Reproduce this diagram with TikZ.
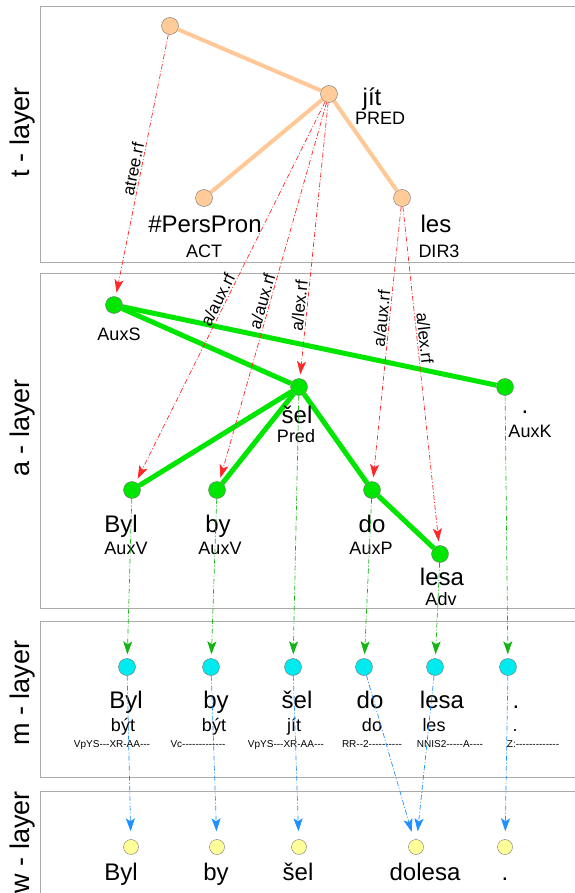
\documentclass[tikz,border=0pt]{standalone}
\usepackage{fontspec}
\setmainfont{Liberation Sans}
\newfontfamily\tagfont{Liberation Sans}
\usetikzlibrary{arrows.meta}

\definecolor{tnode}{RGB}{255,204,153}
\definecolor{tedge}{RGB}{255,200,150}
\definecolor{anode}{RGB}{0,230,0}
\definecolor{aedge}{RGB}{0,230,0}
\definecolor{mnode}{RGB}{0,235,240}
\definecolor{wnode}{RGB}{255,255,153}
\definecolor{tarrow}{RGB}{255,40,40}
\definecolor{aarrow}{RGB}{20,180,20}
\definecolor{marrow}{RGB}{30,144,255}
\definecolor{frame}{RGB}{170,170,170}

\begin{document}
\begin{tikzpicture}[x=1pt,y=-1pt,
  layerbox/.style={draw=frame,line width=1pt},
  layername/.style={rotate=90,font=\fontsize{27}{29}\selectfont},
  tdot/.style={circle,draw=black!55,fill=tnode,minimum size=17pt,inner sep=0pt},
  adot/.style={circle,draw=black!55,fill=anode,minimum size=17pt,inner sep=0pt},
  mdot/.style={circle,draw=black!55,fill=mnode,minimum size=17pt,inner sep=0pt},
  wdot/.style={circle,draw=black!55,fill=wnode,minimum size=15pt,inner sep=0pt},
  word/.style={anchor=base,inner sep=0pt,font=\fontsize{24}{26}\selectfont},
  func/.style={anchor=base,inner sep=0pt,font=\fontsize{18}{20}\selectfont},
  tag/.style={anchor=base,inner sep=0pt,font=\tagfont\fontsize{10}{11}\selectfont},
  tline/.style={draw=tedge,line width=4pt},
  aline/.style={draw=aedge,line width=5pt},
  refline/.style={line width=0.7pt,dash pattern=on 5pt off 2pt on 1pt off 2pt,-{Stealth[length=13pt,width=9pt,inset=3pt]}},
  tref/.style={refline,draw=tarrow,shorten >=4pt},
  aref/.style={refline,draw=aarrow,shorten >=4pt},
  mref/.style={refline,draw=marrow,shorten >=8pt},
  reflabel/.style={sloped,above,inner sep=1.5pt,font=\fontsize{17}{19}\selectfont,text=black}]
\useasboundingbox (0,0) rectangle (574,893);

% layers
\draw[layerbox] (40,7) rectangle (600,262);
\draw[layerbox] (40,273) rectangle (600,608);
\draw[layerbox] (40,621) rectangle (600,777);
\draw[layerbox] (40,791) rectangle (600,920);

\node[layername] (tlayer) at (23,132) {t - layer};
\node[layername] (alayer) at (23,428) {a - layer};
\node[layername] (mlayer) at (23,693) {m - layer};
\node[layername] (wlayer) at (23,842) {w - layer};

% t-layer
\node[tdot] (troot) at (170,26) {};
\node[tdot] (jit) at (329,94) {};
\node[tdot] (PersPron) at (204,198) {};
\node[tdot] (les) at (402,198) {};

\draw[tline] (troot) -- (jit);
\draw[tline] (jit) -- (PersPron);
\draw[tline] (jit) -- (les);

\node[word] (jitw) at (372,106) {jít};
\node[func] (jitf) at (380,125) {PRED};
\node[word] (PersPronw) at (205,233) {\#PersPron};
\node[func] (PersPronf) at (204,258) {ACT};
\node[word] (lesw) at (436,233) {les};
\node[func] (lesf) at (439,258) {DIR3};

% a-layer
\node[adot] (AuxS) at (114,305) {};
\node[adot] (sel) at (299,387) {};
\node[adot] (AuxK) at (505,387) {};
\node[adot] (Byl) at (132,490) {};
\node[adot] (by) at (217,490) {};
\node[adot] (do) at (372,490) {};
\node[adot] (lesa) at (440,554) {};

\draw[aline] (AuxS) -- (sel);
\draw[aline] (AuxS) -- (AuxK);
\draw[aline] (sel) -- (Byl);
\draw[aline] (sel) -- (by);
\draw[aline] (sel) -- (do);
\draw[aline] (do) -- (lesa);

\node[func] (AuxSf) at (119,340) {AuxS};
\node[word] (selw) at (297,423) {šel};
\node[func] (self) at (296,442) {Pred};
\node[word] (AuxKw) at (525,413) {.};
\node[func] (AuxKf) at (530,437) {AuxK};
\node[word] (Bylw) at (121,532) {Byl};
\node[func] (Bylf) at (126,554) {AuxV};
\node[word] (byw) at (218,532) {by};
\node[func] (byf) at (220,554) {AuxV};
\node[word] (dow) at (372,532) {do};
\node[func] (dof) at (371,554) {AuxP};
\node[word] (lesaw) at (442,585) {lesa};
\node[func] (lesaf) at (441,605) {Adv};

% t -> a
\draw[tref] (troot) -- node[reflabel,pos=.52] {atree.rf} (AuxS);
\draw[tref] (jit) -- node[reflabel,pos=.53] {a/aux.rf} (Byl);
\draw[tref] (jit) -- node[reflabel,pos=.53] {a/aux.rf} (by);
\draw[tref] (jit) -- node[reflabel,pos=.74] {a/lex.rf} (sel);
\draw[tref] (les) -- node[reflabel,pos=.41] {a/aux.rf} (do);
\draw[tref] (les) -- node[reflabel,pos=.39] {a/lex.rf} (lesa);

% m-layer
\node[mdot] (mByl) at (127,667) {};
\node[mdot] (mby) at (211,667) {};
\node[mdot] (msel) at (293,667) {};
\node[mdot] (mdo) at (364,667) {};
\node[mdot] (mlesa) at (435,667) {};
\node[mdot] (mperiod) at (508,667) {};

\node[word] (mBylw) at (126,708) {Byl};
\node[func] (mBylf) at (123,731) {být};
\node[tag] (mBylt) at (112,747) {VpYS---XR-AA---};
\node[word] (mbyw) at (216,708) {by};
\node[func] (mbyf) at (214,731) {být};
\node[tag] (mbyt) at (198,747) {Vc-------------};
\node[word] (mselw) at (297,708) {šel};
\node[func] (mself) at (294,731) {jít};
\node[tag] (mselt) at (286,747) {VpYS---XR-AA---};
\node[word] (mdow) at (370,708) {do};
\node[func] (mdof) at (372,731) {do};
\node[tag] (mdot) at (372,747) {RR--2----------};
\node[word] (mlesaw) at (442,708) {lesa};
\node[func] (mlesaf) at (434,731) {les};
\node[tag] (mlesat) at (450,747) {NNIS2-----A----};
\node[word] (mperiodw) at (516,708) {.};
\node[func] (mperiodf) at (515,731) {.};
\node[tag] (mperiodt) at (533,747) {Z:-------------};

% a -> m
\draw[aref] (Byl) -- (mByl);
\draw[aref] (by) -- (mby);
\draw[aref] (sel) -- (msel);
\draw[aref] (do) -- (mdo);
\draw[aref] (lesa) -- (mlesa);
\draw[aref] (AuxK) -- (mperiod);

% w-layer
\node[wdot] (wByl) at (131,847) {};
\node[wdot] (wby) at (217,847) {};
\node[wdot] (wsel) at (299,847) {};
\node[wdot] (wdolesa) at (416,847) {};
\node[wdot] (wperiod) at (505,847) {};

\node[word] (wBylw) at (121,880) {Byl};
\node[word] (wbyw) at (216,880) {by};
\node[word] (wselw) at (298,880) {šel};
\node[word] (wdolesaw) at (425,880) {dolesa};
\node[word] (wperiodw) at (505,880) {.};

% m -> w
\draw[mref] (mByl) -- (wByl);
\draw[mref] (mby) -- (wby);
\draw[mref] (msel) -- (wsel);
\draw[mref] (mdo) -- (wdolesa);
\draw[mref] (mlesa) -- (wdolesa);
\draw[mref] (mperiod) -- (wperiod);
\end{tikzpicture}
\end{document}
